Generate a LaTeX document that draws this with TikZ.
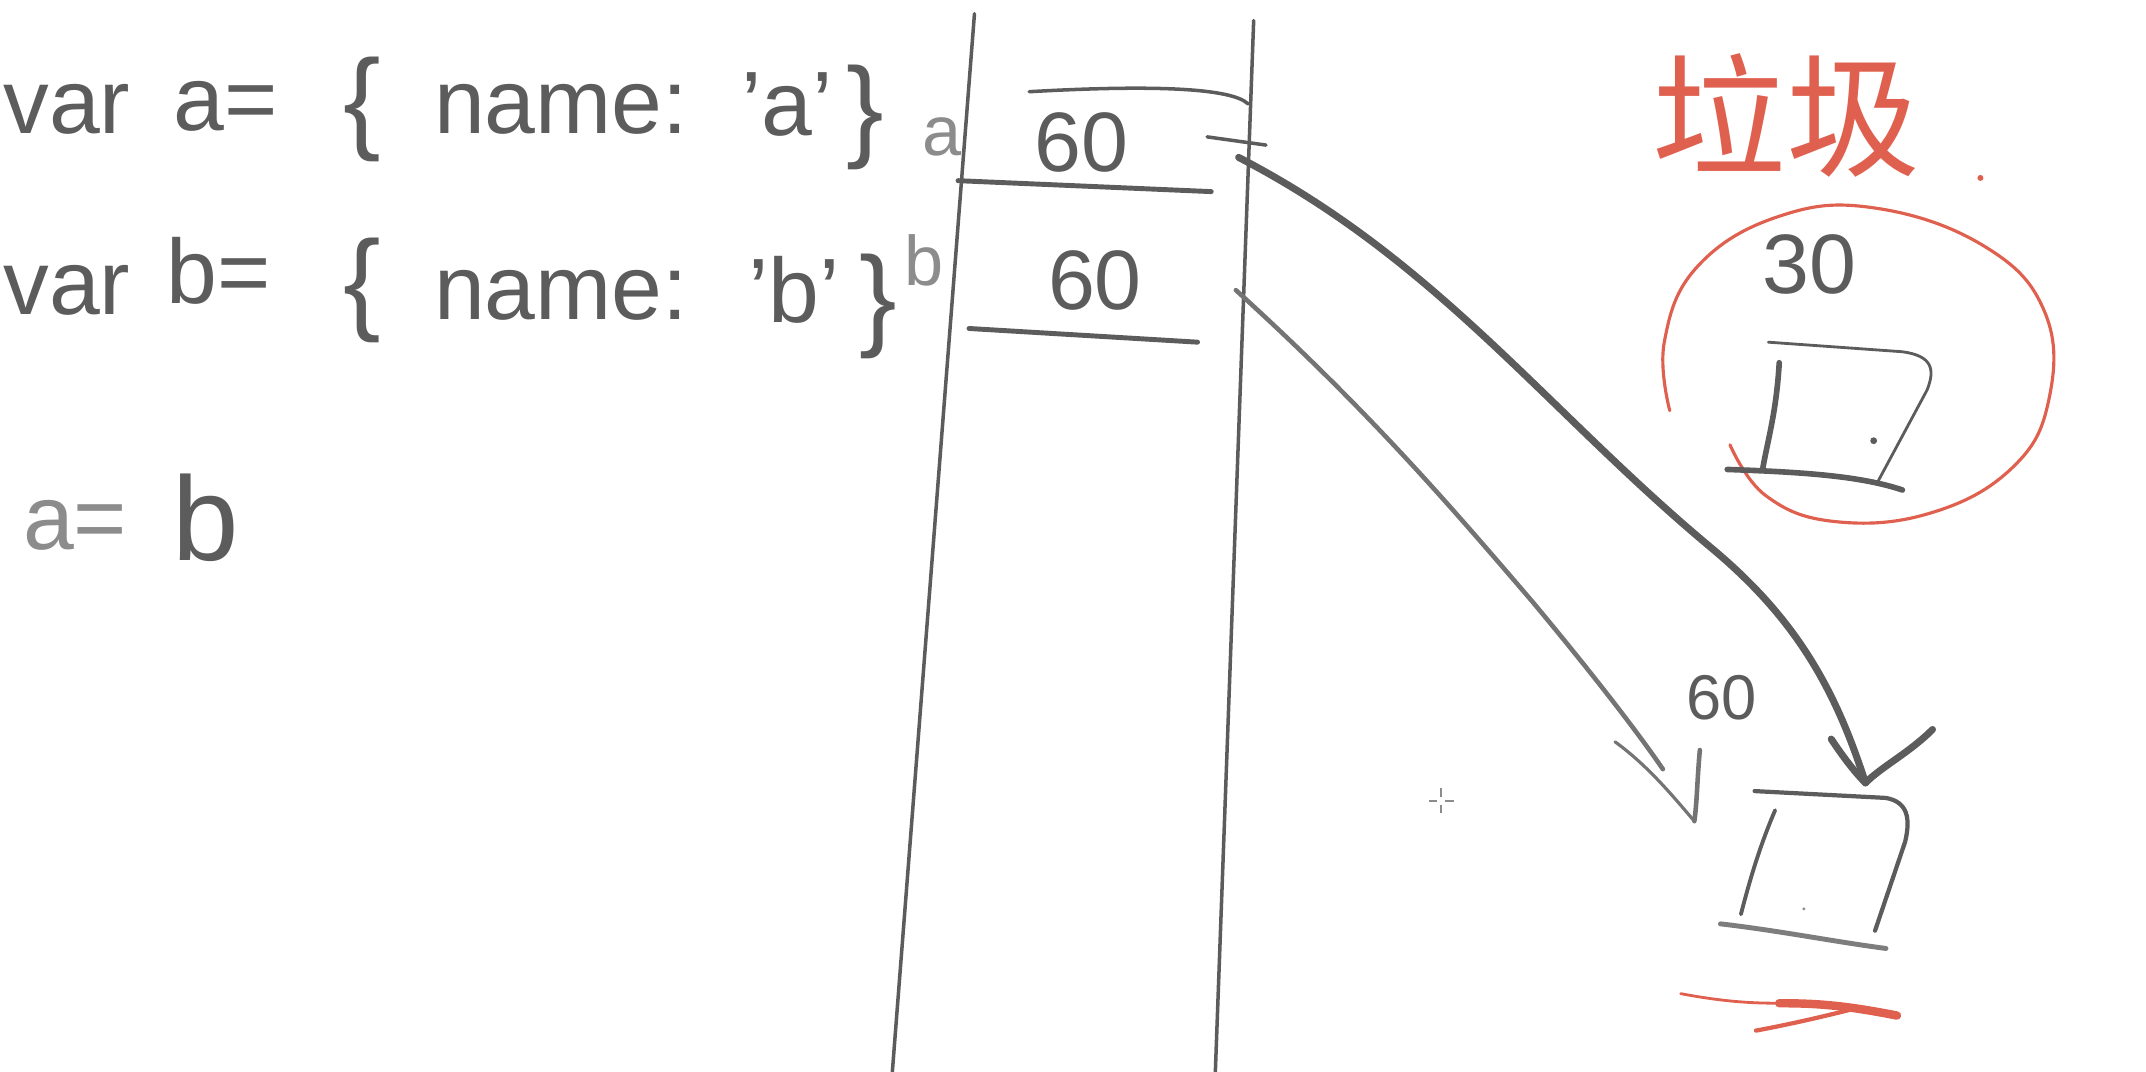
\documentclass[tikz,border=0pt]{standalone}
\usepackage{fontspec}
\setmainfont{Liberation Sans}
\newfontfamily\cjkfont{Noto Sans CJK SC}
\usetikzlibrary{calc}
\definecolor{ink}{HTML}{5C5C5C}
\definecolor{inklight}{HTML}{8C8C8C}
\definecolor{redink}{HTML}{E0604F}
\tikzset{
  code/.style={text=ink, font=\fontsize{26}{26}\selectfont, inner sep=0pt},
  brace/.style={text=ink, font=\fontsize{32}{32}\selectfont, inner sep=0pt},
  small/.style={text=inklight, font=\fontsize{20}{20}\selectfont, inner sep=0pt},
  val/.style={text=ink, font=\fontsize{24}{24}\selectfont, inner sep=0pt},
  stackline/.style={draw=ink, line width=1pt, line cap=round},
  cellline/.style={draw=ink, line width=1.4pt, line cap=round},
  thickarrow/.style={draw=ink, line width=2pt, line cap=round, line join=round},
  thinarrow/.style={draw=ink!85, line width=1.3pt, line cap=round, line join=round},
  boxline/.style={draw=ink, line width=1.6pt, line cap=round, line join=round},
  redline/.style={draw=redink, line width=0.9pt, line cap=round},
}
\begin{document}
\begin{tikzpicture}[x=0.013686cm,y=-0.013686cm]
\useasboundingbox (0,0) rectangle (1568,783);

% ---- code lines ----
\node[code, anchor=west] (v1) at (2,80) {var};
\node[code] (a1) at (165,78) {a=};
\node[brace] (lb1) at (265,80) {\{};
\node[code] (n1) at (410,80) {name:};
\node[code] (s1) at (575,76) {'a'};
\node[brace] (rb1) at (632,86) {\}};
\node[small] (la) at (688,100) {a};

\node[code, anchor=west] (v2) at (2,212) {var};
\node[code] (b2) at (160,198) {b=};
\node[brace] (lb2) at (265,212) {\{};
\node[code] (n2) at (410,216) {name:};
\node[code] (s2) at (580,212) {'b'};
\node[brace] (rb2) at (642,224) {\}};
\node[small] (lb) at (675,190) {b};

\node[code, text=inklight] (ab1) at (55,384) {a=};
\node[code, font=\fontsize{34}{34}\selectfont] (ab2) at (150,378) {b};

% ---- stack ----
\coordinate (stTL) at (712,10);
\coordinate (stBL) at (652,783);
\coordinate (stTR) at (916,15);
\coordinate (stBR) at (888,783);
\draw[stackline] (stTL) -- (stBL);
\draw[stackline] (stTR) -- (stBR);
\draw[cellline, line width=1pt] (752,67) .. controls (840,62) and (900,64) .. (912,76);
\node[val] (cellA) at (790,104) {60};
\draw[cellline] (700,132) -- (885,140);
\node[val] (cellB) at (800,205) {60};
\draw[cellline] (708,240) -- (875,250);

% ---- garbage label ----
\node[text=redink, font=\cjkfont\fontsize{38}{38}\selectfont, inner sep=0pt] (gar) at (1305,84) {垃圾};
\fill[redink] (1447,130) circle (2.2);

% ---- garbage circle ----
\draw[redline] plot[smooth, tension=0.7] coordinates {(1220,300) (1216,250) (1240,195) (1300,158) (1370,152) (1450,180) (1494,228) (1497,292) (1470,342) (1410,375) (1340,381) (1290,362) (1264,325)};
\node[val] (v30) at (1322,193) {30};
% box in circle
\node[inner sep=0pt, minimum width=100, minimum height=90] (objA) at (1340,305) {};
\draw[boxline, line width=0.8pt] (1292,250) -- (1390,257) .. controls (1412,260) and (1414,270) .. (1408,285) -- (1372,352);
\draw[boxline] (1300,265) .. controls (1298,300) and (1292,320) .. (1288,342);
\draw[boxline] (1262,343) .. controls (1320,345) and (1360,348) .. (1390,358);
\fill[ink] (1369,322) circle (2.5);

% ---- target object ----
\node[inner sep=0pt, minimum width=110, minimum height=100] (objB) at (1325,635) {};
\draw[boxline, line width=1.2pt] (1282,578) -- (1378,583) .. controls (1394,586) and (1396,598) .. (1392,615) -- (1370,680);
\draw[boxline, line width=1.1pt] (1297,592) .. controls (1285,620) and (1278,645) .. (1272,668);
\draw[boxline, line width=1.4pt, draw=ink!80] (1257,675) .. controls (1300,680) and (1340,688) .. (1378,693);
\fill[inklight] (1318,664) circle (1.2);

% ---- arrow from a ----
\coordinate (aStart) at (882,100);
\coordinate (aTip) at (1363,572);
\draw[thickarrow, line width=1pt] (aStart) -- (925,106);
\draw[thickarrow] (905,115) .. controls (1050,190) and (1130,300) .. (1250,400)
  .. controls (1310,450) and (1340,500) .. (aTip);
\draw[thickarrow] (1338,540) .. controls (1348,555) and (1356,565) .. (aTip);
\draw[thickarrow] (1412,533) .. controls (1395,550) and (1375,560) .. (aTip);

% ---- arrow from b ----
\coordinate (bStart) at (903,212);
\coordinate (bTip) at (1238,600);
\draw[thinarrow] (bStart) .. controls (1000,300) and (1060,370) .. (1120,440)
  .. controls (1170,500) and (1200,540) .. (1215,562);
\draw[thinarrow, line width=0.9pt] (1180,542) .. controls (1205,560) and (1225,585) .. (bTip);
\draw[thinarrow] (1242,548) .. controls (1240,570) and (1240,585) .. (bTip);
\node[val, font=\fontsize{18}{18}\selectfont] (v60) at (1258,510) {60};

% ---- red underline ----
\draw[redline, line width=0.8pt] (1228,726) .. controls (1260,732) and (1280,733) .. (1300,733);
\draw[redline, line width=2.4pt] (1300,733) .. controls (1330,733) and (1350,735) .. (1386,742);
\draw[redline, line width=1.2pt] (1283,753) .. controls (1310,748) and (1335,742) .. (1355,737);

% ---- cursor mark ----
\coordinate (cur) at (1053,585);
\draw[inklight, line width=0.5pt] ($(cur)+(-9,0)$) -- ($(cur)+(-3,0)$) ($(cur)+(3,0)$) -- ($(cur)+(9,0)$)
  ($(cur)+(0,-9)$) -- ($(cur)+(0,-3)$) ($(cur)+(0,3)$) -- ($(cur)+(0,9)$);
\end{tikzpicture}
\end{document}
